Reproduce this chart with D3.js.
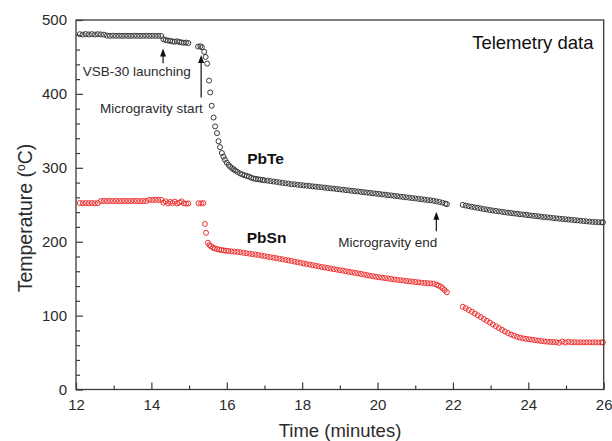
<!DOCTYPE html>
<html>
<head>
<meta charset="utf-8">
<script src="https://cdn.jsdelivr.net/npm/d3@7"></script>
<style>
    html, body { margin: 0; padding: 0; background: #fff; }
    svg { display: block; font-family: "Liberation Sans", Arial, sans-serif; }
</style>
</head>
<body>
<svg width="612" height="441"></svg>
<script>
// time (minutes), temperature (°C)
const pbteReadings = [
    [12.10, 480.8], [12.18, 480.2], [12.26, 481.0], [12.34, 480.4], [12.42, 480.9], [12.50, 480.3],
    [12.58, 480.8], [12.66, 480.5], [12.74, 480.2], [12.82, 478.9], [12.90, 478.6], [12.98, 478.8],
    [13.06, 478.6], [13.14, 478.7], [13.22, 478.5], [13.30, 478.7], [13.38, 478.6], [13.46, 478.5],
    [13.54, 478.7], [13.62, 478.6], [13.70, 478.5], [13.78, 478.6], [13.86, 478.7], [13.94, 478.5],
    [14.02, 478.6], [14.10, 478.5], [14.18, 478.6], [14.26, 478.4], [14.32, 474.0], [14.38, 472.8],
    [14.44, 472.2], [14.50, 471.8], [14.56, 471.0], [14.62, 470.6], [14.68, 471.2], [14.74, 470.3],
    [14.80, 469.6], [14.86, 469.2], [14.92, 469.5], [14.98, 468.8],
    [15.24, 464.0], [15.30, 464.5], [15.34, 463.0], [15.40, 457.0], [15.44, 450.0], [15.48, 441.0],
    [15.53, 418.0], [15.56, 402.0], [15.60, 384.0], [15.65, 368.0], [15.69, 356.0], [15.74, 347.0],
    [15.78, 336.0], [15.82, 328.0], [15.87, 320.0], [15.91, 315.0], [15.95, 311.0], [16.00, 307.0],
    [16.05, 304.0], [16.09, 301.5], [16.14, 299.5], [16.18, 298.0], [16.22, 296.5], [16.28, 294.5],
    [16.35, 292.5], [16.41, 291.0], [16.47, 290.0], [16.53, 289.0], [16.59, 288.0], [16.65, 286.5],
    [16.71, 285.5], [16.77, 285.0], [16.83, 284.5], [16.89, 284.0], [16.95, 283.5], [17.00, 283.0],
    [17.08, 282.6], [17.16, 282.0], [17.24, 281.4], [17.32, 281.0], [17.40, 280.2], [17.48, 279.6],
    [17.56, 279.0], [17.64, 278.6], [17.72, 277.8], [17.80, 277.6], [17.88, 277.0], [17.96, 276.6],
    [18.04, 276.2], [18.12, 275.8], [18.20, 275.4], [18.28, 274.9], [18.36, 274.5], [18.44, 274.0],
    [18.52, 273.6], [18.60, 273.2], [18.68, 272.6], [18.76, 272.2], [18.84, 271.8], [18.92, 271.2],
    [19.00, 270.8], [19.08, 270.4], [19.16, 269.8], [19.24, 269.4], [19.32, 268.8], [19.40, 268.4],
    [19.48, 268.0], [19.56, 267.4], [19.64, 267.0], [19.72, 266.4], [19.80, 266.0], [19.88, 265.5],
    [19.96, 265.0], [20.04, 264.6], [20.12, 264.0], [20.20, 263.6], [20.28, 263.0], [20.36, 262.6],
    [20.44, 262.0], [20.52, 261.6], [20.60, 261.0], [20.68, 260.6], [20.76, 260.0], [20.84, 259.6],
    [20.92, 259.0], [21.00, 258.6], [21.08, 258.0], [21.16, 257.5], [21.24, 257.0], [21.32, 256.4],
    [21.40, 256.0], [21.48, 255.4], [21.56, 254.6], [21.64, 253.8], [21.72, 252.8], [21.80, 251.6],
    [21.84, 250.8],
    [22.26, 249.8], [22.34, 248.9], [22.42, 248.0], [22.50, 247.2], [22.58, 246.4], [22.66, 245.8],
    [22.74, 245.0], [22.82, 244.2], [22.90, 243.6], [22.98, 242.8], [23.06, 242.2], [23.14, 241.6],
    [23.22, 241.0], [23.30, 240.4], [23.38, 239.8], [23.46, 239.2], [23.54, 238.8], [23.62, 238.2],
    [23.70, 237.8], [23.78, 237.2], [23.86, 236.8], [23.94, 236.2], [24.02, 235.8], [24.10, 235.2],
    [24.18, 234.8], [24.26, 234.4], [24.34, 233.8], [24.42, 233.4], [24.50, 233.0], [24.58, 232.6],
    [24.66, 232.0], [24.74, 231.6], [24.82, 231.2], [24.90, 230.8], [24.98, 230.4], [25.06, 230.0],
    [25.14, 229.6], [25.22, 229.2], [25.30, 228.8], [25.38, 228.4], [25.46, 228.0], [25.54, 227.6],
    [25.62, 227.2], [25.70, 226.8], [25.78, 226.6], [25.86, 226.4], [25.94, 226.2], [25.98, 226.2]
];

const pbsnReadings = [
    [12.10, 252.4], [12.18, 252.0], [12.26, 252.3], [12.34, 252.1], [12.42, 252.4], [12.50, 252.0],
    [12.58, 252.3], [12.66, 255.0], [12.74, 255.2], [12.82, 254.9], [12.90, 255.1], [12.98, 255.0],
    [13.06, 255.2], [13.14, 254.9], [13.22, 255.0], [13.30, 255.1], [13.38, 254.9], [13.46, 255.0],
    [13.54, 255.2], [13.62, 255.0], [13.70, 254.9], [13.78, 255.1], [13.86, 255.0], [13.94, 256.6],
    [14.02, 256.4], [14.10, 256.7], [14.18, 256.5], [14.26, 256.6], [14.32, 252.8], [14.38, 254.6],
    [14.44, 251.9], [14.50, 253.8], [14.56, 252.2], [14.62, 254.2], [14.68, 251.8], [14.74, 253.0],
    [14.80, 254.5], [14.86, 252.0], [14.92, 251.5], [14.98, 251.8],
    [15.25, 252.0], [15.32, 251.8], [15.38, 252.2], [15.42, 224.0], [15.45, 212.0], [15.50, 198.6],
    [15.54, 195.5], [15.58, 194.0], [15.63, 192.0], [15.68, 191.0], [15.74, 190.0], [15.80, 189.2],
    [15.86, 188.8], [15.92, 188.2], [15.98, 187.8], [16.04, 187.4], [16.12, 187.0], [16.20, 186.6],
    [16.28, 186.2], [16.36, 185.7], [16.44, 185.0], [16.52, 184.4], [16.60, 183.8], [16.68, 183.2],
    [16.76, 182.6], [16.84, 182.0], [16.92, 181.2], [17.00, 180.5], [17.08, 179.8], [17.16, 179.0],
    [17.24, 178.4], [17.32, 177.6], [17.40, 176.9], [17.48, 176.2], [17.56, 175.4], [17.64, 174.6],
    [17.72, 173.9], [17.80, 173.0], [17.88, 172.2], [17.96, 171.4], [18.04, 170.6], [18.12, 169.8],
    [18.20, 169.0], [18.28, 168.2], [18.36, 167.4], [18.44, 166.6], [18.52, 165.8], [18.60, 165.1],
    [18.68, 164.4], [18.76, 163.6], [18.84, 162.9], [18.92, 162.2], [19.00, 161.5], [19.08, 160.8],
    [19.16, 160.0], [19.24, 159.3], [19.32, 158.6], [19.40, 157.8], [19.48, 157.1], [19.56, 156.4],
    [19.64, 155.6], [19.72, 154.8], [19.80, 154.0], [19.88, 153.3], [19.96, 152.5], [20.04, 151.9],
    [20.12, 151.3], [20.20, 150.8], [20.28, 150.2], [20.36, 149.6], [20.44, 149.0], [20.52, 148.4],
    [20.60, 147.9], [20.68, 147.4], [20.76, 146.9], [20.84, 146.4], [20.92, 146.0], [21.00, 145.5],
    [21.08, 145.1], [21.16, 144.6], [21.24, 144.2], [21.32, 143.9], [21.40, 143.6], [21.48, 143.2],
    [21.56, 142.0], [21.62, 140.6], [21.68, 139.0], [21.73, 137.0], [21.78, 134.4], [21.84, 131.5],
    [22.26, 112.0], [22.34, 110.0], [22.42, 107.6], [22.50, 105.2], [22.58, 102.8], [22.66, 100.4],
    [22.74, 98.0], [22.82, 95.4], [22.90, 93.0], [22.98, 90.6], [23.06, 88.0], [23.14, 85.6],
    [23.22, 83.2], [23.30, 80.8], [23.38, 78.6], [23.46, 76.4], [23.54, 74.4], [23.62, 72.8],
    [23.70, 71.4], [23.78, 70.2], [23.86, 69.2], [23.94, 68.6], [24.02, 68.0], [24.10, 67.4],
    [24.18, 66.8], [24.26, 66.2], [24.34, 65.6], [24.42, 65.1], [24.50, 64.7], [24.58, 64.4],
    [24.66, 64.2], [24.74, 64.0], [24.82, 63.2], [24.90, 65.0], [24.98, 63.5], [25.06, 64.6],
    [25.14, 63.9], [25.22, 64.0], [25.30, 63.8], [25.38, 63.8], [25.46, 63.8], [25.54, 63.8],
    [25.62, 63.7], [25.70, 63.8], [25.78, 63.8], [25.86, 63.7], [25.94, 63.8], [25.98, 63.8]
];

const xTicks = [12, 14, 16, 18, 20, 22, 24, 26];
const xMinorTicks = [13, 15, 17, 19, 21, 23, 25];
const yTicks = [0, 100, 200, 300, 400, 500];
const yMinorTicks = [20, 40, 60, 80, 120, 140, 160, 180, 220, 240, 260, 280, 320, 340, 360, 380, 420, 440, 460, 480];

// arrows: time, tail temperature, tip temperature
const eventArrows = [
    { t: 14.31, from: 441.5, to: 461.5 },
    { t: 15.32, from: 395, to: 452.5 },
    { t: 21.56, from: 214, to: 240.5 }
];
const eventLabels = [
    { text: "VSB-30 launching", t: 12.18, T: 424 },
    { text: "Microgravity start", t: 12.64, T: 373.5 },
    { text: "Microgravity end", t: 18.96, T: 193 }
];
const seriesLabels = [
    { text: "PbTe", t: 16.54, T: 304.5 },
    { text: "PbSn", t: 16.53, T: 198.5 }
];

const margin = { top: 20, right: 8.3, bottom: 51.5, left: 76 };
const width = 612, height = 441;
const inkColor = "#2b2b2b";

const x = d3.scaleLinear([12, 26], [margin.left, width - margin.right]);
const y = d3.scaleLinear([0, 500], [height - margin.bottom, margin.top]);

const svg = d3.select("svg");

const frame = selection => {
    selection.append("rect")
        .attr("x", x(12)).attr("y", y(500))
        .attr("width", x(26) - x(12)).attr("height", y(0) - y(500))
        .attr("fill", "none")
        .attr("stroke", "#3a3a3a")
        .attr("stroke-width", 1.3);
}

const styleAxis = g => {
    g.select(".domain").remove();
    g.selectAll("line").attr("stroke", "#3a3a3a").attr("stroke-width", 1.2);
    g.selectAll("text").attr("fill", inkColor).style("font-size", "15px")
        .style("font-family", "'Liberation Sans', Arial, sans-serif");
}

const xAxis = selection => {
    selection.append("g")
        .attr("transform", `translate(0,${y(0)})`)
        .call(d3.axisBottom(x).tickValues(xTicks).tickSize(-7).tickPadding(10).tickFormat(d3.format("d")))
        .call(styleAxis);
    selection.append("g")
        .attr("transform", `translate(0,${y(0)})`)
        .call(d3.axisBottom(x).tickValues(xMinorTicks).tickSize(-4).tickFormat(""))
        .call(styleAxis);
}

const yAxis = selection => {
    selection.append("g")
        .attr("transform", `translate(${x(12)},0)`)
        .call(d3.axisLeft(y).tickValues(yTicks).tickSize(-7).tickPadding(9).tickFormat(d3.format("d")))
        .call(styleAxis);
    selection.append("g")
        .attr("transform", `translate(${x(12)},0)`)
        .call(d3.axisLeft(y).tickValues(yMinorTicks).tickSize(-4).tickFormat(""))
        .call(styleAxis);
}

const axisTitles = selection => {
    selection.append("text")
        .attr("x", 340).attr("y", 437)
        .attr("text-anchor", "middle")
        .attr("fill", inkColor)
        .style("font-size", "18.5px")
        .text("Time (minutes)");
    let t = selection.append("text")
        .attr("transform", "translate(31.5,218) rotate(-90)")
        .attr("text-anchor", "middle")
        .attr("fill", inkColor)
        .style("font-size", "19.5px");
    t.append("tspan").text("Temperature (");
    t.append("tspan").attr("dy", -7).style("font-size", "12px").text("o");
    t.append("tspan").attr("dy", 7).text("C)");
}

const markers = (data, stroke) => selection => {
    selection.append("g")
        .selectAll("circle")
        .data(data)
        .join("circle")
        .attr("cx", d => x(d[0]))
        .attr("cy", d => y(d[1]))
        .attr("r", 2.5)
        .attr("fill", "none")
        .attr("stroke", stroke)
        .attr("stroke-width", 1);
}

const arrows = selection => {
    let g = selection.selectAll(".arrow")
        .data(eventArrows)
        .join("g")
        .attr("class", "arrow");
    g.append("line")
        .attr("x1", d => x(d.t)).attr("x2", d => x(d.t))
        .attr("y1", d => y(d.from)).attr("y2", d => y(d.to) + 6)
        .attr("stroke", "#111")
        .attr("stroke-width", 1.2);
    g.append("path")
        .attr("d", d => {
            let px = x(d.t), py = y(d.to);
            return `M${px},${py}L${px - 3},${py + 8}L${px + 3},${py + 8}Z`;
        })
        .attr("fill", "#111");
}

const labels = selection => {
    selection.selectAll(".event-label")
        .data(eventLabels)
        .join("text")
        .attr("class", "event-label")
        .attr("x", d => x(d.t)).attr("y", d => y(d.T))
        .attr("fill", inkColor)
        .style("font-size", "13.5px")
        .text(d => d.text);
    selection.selectAll(".series-label")
        .data(seriesLabels)
        .join("text")
        .attr("class", "series-label")
        .attr("x", d => x(d.t)).attr("y", d => y(d.T))
        .attr("fill", "#111")
        .style("font-size", "15.5px")
        .style("font-weight", "bold")
        .text(d => d.text);
    selection.append("text")
        .attr("x", 593.5).attr("y", 48.5)
        .attr("text-anchor", "end")
        .attr("fill", "#111")
        .style("font-size", "18.5px")
        .text("Telemetry data");
}

svg
    .call(markers(pbteReadings, "#383838"))
    .call(markers(pbsnReadings, "#ee3030"))
    .call(xAxis)
    .call(yAxis)
    .call(frame)
    .call(axisTitles)
    .call(arrows)
    .call(labels);
</script>
</body>
</html>
